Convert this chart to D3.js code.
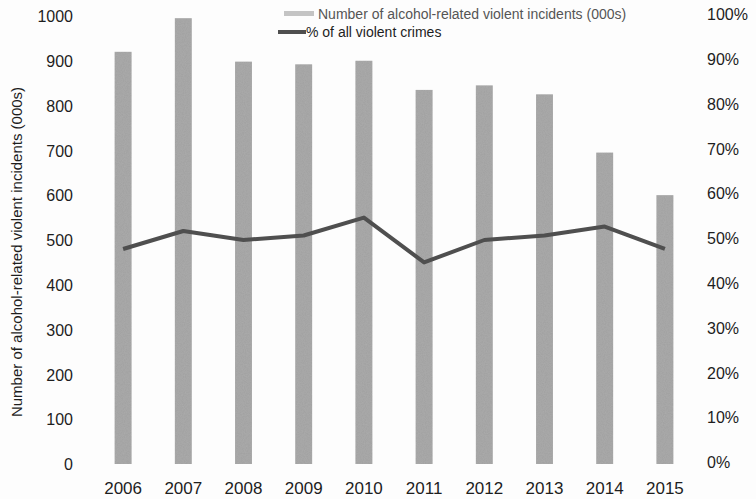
<!DOCTYPE html>
<html>
<head>
<meta charset="utf-8">
<script src="https://d3js.org/d3.v7.min.js"></script>
<style>
  body { margin: 0; background: #fdfdfd; }
  svg text { font-family: "Liberation Sans", Arial, sans-serif; fill: #1e1e1e; }
</style>
</head>
<body>
<svg id="chart" width="756" height="499"></svg>
<script>
// values
var years = ["2006", "2007", "2008", "2009", "2010", "2011", "2012", "2013", "2014", "2015"];
var incidents = [920, 995, 898, 892, 900, 835, 845, 825, 695, 600];
var pctViolent = [48, 52, 50, 51, 55, 45, 50, 51, 53, 48];
var leftTicks = [0, 100, 200, 300, 400, 500, 600, 700, 800, 900, 1000];
var rightTicks = [0, 10, 20, 30, 40, 50, 60, 70, 80, 90, 100];

var svg = d3.select("#chart");

var x = d3.scaleBand().domain(years).range([93, 695])
    .paddingInner(0.72).paddingOuter(0.36);
var y = d3.scaleLinear().domain([0, 1000]).range([464, 16]);
var yPct = d3.scaleLinear().domain([0, 100]).range([464, 16]);

// grainy grey like the printed bars
var defs = svg.append("defs");
var f = defs.append("filter").attr("id", "grain");
f.append("feTurbulence").attr("type", "fractalNoise").attr("baseFrequency", 0.9)
    .attr("numOctaves", 2).attr("result", "noise");
f.append("feColorMatrix").attr("in", "noise").attr("type", "matrix")
    .attr("values", "0 0 0 0 0.45  0 0 0 0 0.45  0 0 0 0 0.45  0 0 0 0.6 0").attr("result", "n2");
f.append("feComposite").attr("in", "n2").attr("in2", "SourceGraphic").attr("operator", "in").attr("result", "n3");
f.append("feMerge").selectAll("feMergeNode").data(["SourceGraphic", "n3"]).enter()
    .append("feMergeNode").attr("in", function (d) { return d; });

svg.selectAll("rect.bar")
    .data(incidents)
    .enter()
    .append("rect")
    .attr("class", "bar")
    .attr("x", function (d, i) { return x(years[i]); })
    .attr("y", function (d) { return y(d); })
    .attr("width", x.bandwidth())
    .attr("height", function (d) { return y(0) - y(d); })
    .attr("fill", "#a0a0a0")
    .attr("filter", "url(#grain)");

var line = d3.line()
    .x(function (d, i) { return x(years[i]) + x.bandwidth() / 2; })
    .y(function (d) { return yPct(d); });

svg.append("path")
    .datum(pctViolent)
    .attr("d", line)
    .attr("fill", "none")
    .attr("stroke", "#4f4f4f")
    .attr("stroke-width", 4)
    .attr("stroke-linejoin", "round");

// left axis (labels only)
var left = svg.append("g")
    .attr("transform", "translate(74,0)")
    .call(d3.axisLeft(y).tickValues(leftTicks).tickSize(0).tickPadding(0)
        .tickFormat(d3.format("d")));
left.select(".domain").remove();
left.selectAll("text").style("font-size", "16px").attr("dy", "0.35em").attr("x", -1);

// right axis
var right = svg.append("g")
    .attr("transform", "translate(707,-2)")
    .call(d3.axisRight(yPct).tickValues(rightTicks).tickSize(0).tickPadding(0)
        .tickFormat(function (d) { return d + "%"; }));
right.select(".domain").remove();
right.selectAll("text").style("font-size", "16px").attr("dy", "0.35em");

// x axis
var bottom = svg.append("g")
    .attr("transform", "translate(0,482)")
    .call(d3.axisBottom(x).tickSize(0).tickPadding(0));
bottom.select(".domain").remove();
bottom.selectAll("text").style("font-size", "17px").attr("dy", "0.71em");

// y title
svg.append("text")
    .attr("transform", "translate(22,252) rotate(-90)")
    .attr("text-anchor", "middle")
    .style("font-size", "15px")
    .text("Number of alcohol-related violent incidents (000s)");

// legend
var legend = svg.append("g");
legend.append("rect")
    .attr("x", 284).attr("y", 11).attr("width", 30).attr("height", 5)
    .attr("fill", "#c4c4c4");
legend.append("text")
    .attr("x", 318).attr("y", 19)
    .style("font-size", "14px")
    .style("fill", "#555")
    .text("Number of alcohol-related violent incidents (000s)");
legend.append("line")
    .attr("x1", 278).attr("x2", 306).attr("y1", 32).attr("y2", 32)
    .attr("stroke", "#4f4f4f").attr("stroke-width", 4);
legend.append("text")
    .attr("x", 306).attr("y", 37)
    .style("font-size", "14px")
    .text("% of all violent crimes");
</script>
</body>
</html>
